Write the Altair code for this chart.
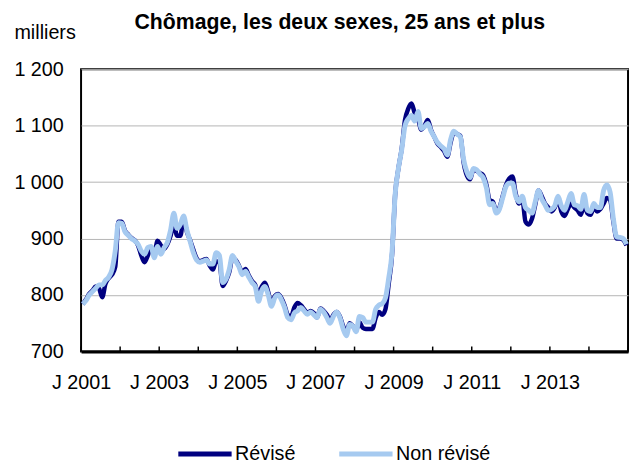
import altair as alt
import pandas as pd

# ---- data (monthly, Jan 2001 .. Dec 2014), thousands ----
revise = [
    784, 792, 802, 808, 815, 812, 796, 820, 830, 836, 850, 930,      # 2001
    930, 914, 907, 901, 897, 888, 870, 858, 870, 884, 875, 896,      # 2002
    888, 882, 890, 905, 925, 905, 905, 935, 912, 897, 880, 865,      # 2003
    860, 862, 864, 852, 845, 860, 858, 816, 825, 840, 865, 862,      # 2004
    852, 840, 846, 835, 825, 818, 800, 815, 822, 805, 785, 798,      # 2005
    802, 795, 782, 765, 762, 778, 786, 782, 775, 768, 772, 768,      # 2006
    760, 776, 772, 765, 755, 765, 770, 762, 745, 735, 750, 745,      # 2007
    738, 752, 742, 740, 740, 740, 760, 770, 765, 775, 820, 870,      # 2008
    980, 1025, 1060, 1110, 1130, 1139, 1122, 1112, 1093, 1100, 1110, 1092,  # 2009
    1080, 1068, 1062, 1055, 1045, 1070, 1088, 1085, 1082, 1035, 1012, 1005, # 2010
    1022, 1020, 1016, 1012, 995, 968, 965, 950, 955, 975, 995, 1006,  # 2011
    1010, 980, 962, 972, 930, 925, 935, 960, 985, 975, 962, 955,      # 2012
    948, 955, 970, 948, 940, 952, 962, 955, 950, 942, 960, 945,       # 2013
    942, 955, 948, 952, 962, 972, 968, 930, 900, 900, 898, 888,       # 2014
]
non_revise = [
    784, 790, 800, 806, 812, 818, 818, 826, 832, 845, 878, 928,      # 2001
    927, 912, 906, 900, 896, 890, 878, 872, 884, 886, 866, 886,      # 2002
    872, 884, 893, 915, 945, 918, 925, 940, 915, 895, 875, 862,      # 2003
    858, 860, 862, 855, 855, 875, 870, 822, 828, 845, 870, 860,      # 2004
    850, 836, 842, 832, 822, 815, 789, 808, 815, 800, 780, 795,      # 2005
    800, 792, 778, 760, 756, 768, 772, 778, 772, 766, 770, 765,      # 2006
    760, 775, 770, 760, 750, 762, 770, 760, 740, 728, 748, 745,      # 2007
    735, 762, 760, 752, 752, 752, 775, 782, 785, 795, 830, 875,      # 2008
    980, 1025, 1058, 1100, 1112, 1118, 1108, 1125, 1095, 1098, 1104, 1090,  # 2009
    1080, 1070, 1064, 1059, 1048, 1075, 1090, 1085, 1080, 1040, 1018, 1008, # 2010
    1024, 1022, 1014, 1008, 990, 960, 962, 945, 952, 972, 992, 998,   # 2011
    998, 975, 965, 975, 955, 950, 945, 965, 985, 970, 960, 950,       # 2012
    952, 958, 975, 958, 950, 965, 980, 960, 958, 952, 978, 950,       # 2013
    948, 962, 955, 955, 985, 995, 982, 935, 903, 902, 900, 890,       # 2014
]
series_names = ["Révisé", "Non révisé"]
series_colors = ["#000080", "#A6CAF0"]
first_year = 2001
y_ticks = [700, 800, 900, 1000, 1100, 1200]
x_label_positions = [0, 24, 48, 72, 96, 120, 144]
year_ticks = list(range(0, 169, 12))
title_text = "Chômage, les deux sexes, 25 ans et plus"

months = [i + 0.5 for i in range(len(revise))]
df_r = pd.DataFrame({"t": months, "v": revise, "s": series_names[0]})
df_n = pd.DataFrame({"t": months, "v": non_revise, "s": series_names[1]})
df_ticks = pd.DataFrame({"t": year_ticks})
df_title = pd.DataFrame({"label": [title_text]})

FONT = "Liberation Sans"

x_scale = alt.Scale(domain=[0, 168], zero=False, nice=False)
y_scale = alt.Scale(domain=[700, 1200], zero=False, nice=False)
color_scale = alt.Scale(domain=series_names, range=series_colors)

x_axis = alt.Axis(
    values=x_label_positions,
    labelExpr=f"'J ' + ({first_year} + datum.value / 12)",
    ticks=False, grid=False, domain=True, domainColor="black", domainWidth=3,
    labelFontSize=20, labelFont=FONT, labelColor="black", labelPadding=21,
    labelOverlap=False, labelFlush=False, labelBound=False, title=None,
)
y_axis = alt.Axis(
    values=y_ticks,
    labelExpr="replace(format(datum.value, ','), ',', ' ')",
    ticks=False, domain=False, grid=True, gridColor="#B4B4B4", gridWidth=1,
    labelFontSize=20, labelFont=FONT, labelColor="black", labelPadding=18,
    title="milliers", titleAngle=0, titleAlign="left", titleBaseline="alphabetic",
    titleX=-68, titleY=-31, titleFontSize=20, titleFontWeight="normal",
    titleFont=FONT, titleColor="black",
)

legend = alt.Legend(
    title=None, orient="none", direction="horizontal", legendX=96, legendY=360,
    symbolType="stroke", symbolSize=2916, symbolStrokeWidth=5,
    labelFontSize=20, labelFont=FONT, labelColor="black", labelOffset=1,
    columnPadding=33, padding=0,
)

ticks = alt.Chart(df_ticks).mark_rule(color="black", strokeWidth=1.5).encode(
    x=alt.X("t:Q", scale=x_scale, axis=x_axis),
    y=alt.value(281), y2=alt.value(286),
)

line_r = alt.Chart(df_r).mark_line(strokeWidth=4.5, interpolate="monotone").encode(
    x=alt.X("t:Q", scale=x_scale, axis=x_axis),
    y=alt.Y("v:Q", scale=y_scale, axis=y_axis),
    color=alt.Color("s:N", scale=color_scale, legend=legend),
)
line_n = alt.Chart(df_n).mark_line(strokeWidth=5, interpolate="monotone").encode(
    x=alt.X("t:Q", scale=x_scale, axis=x_axis),
    y=alt.Y("v:Q", scale=y_scale, axis=y_axis),
    color=alt.Color("s:N", scale=color_scale, legend=legend),
)

title_mark = alt.Chart(df_title).mark_text(
    font=FONT, fontSize=21.5, fontWeight="bold", color="black",
    align="center", baseline="alphabetic",
).encode(text="label:N", x=alt.value(262), y=alt.value(-41))

chart = alt.layer(ticks, line_r, line_n, title_mark).properties(
    width=554, height=286,
    autosize=alt.AutoSizeParams(type="none"),
    padding={"left": 74, "top": 59, "right": 2, "bottom": 110},
).configure_view(stroke="black", strokeWidth=2)

chart.save("out.html", embed_options={"renderer": "svg", "actions": False})
